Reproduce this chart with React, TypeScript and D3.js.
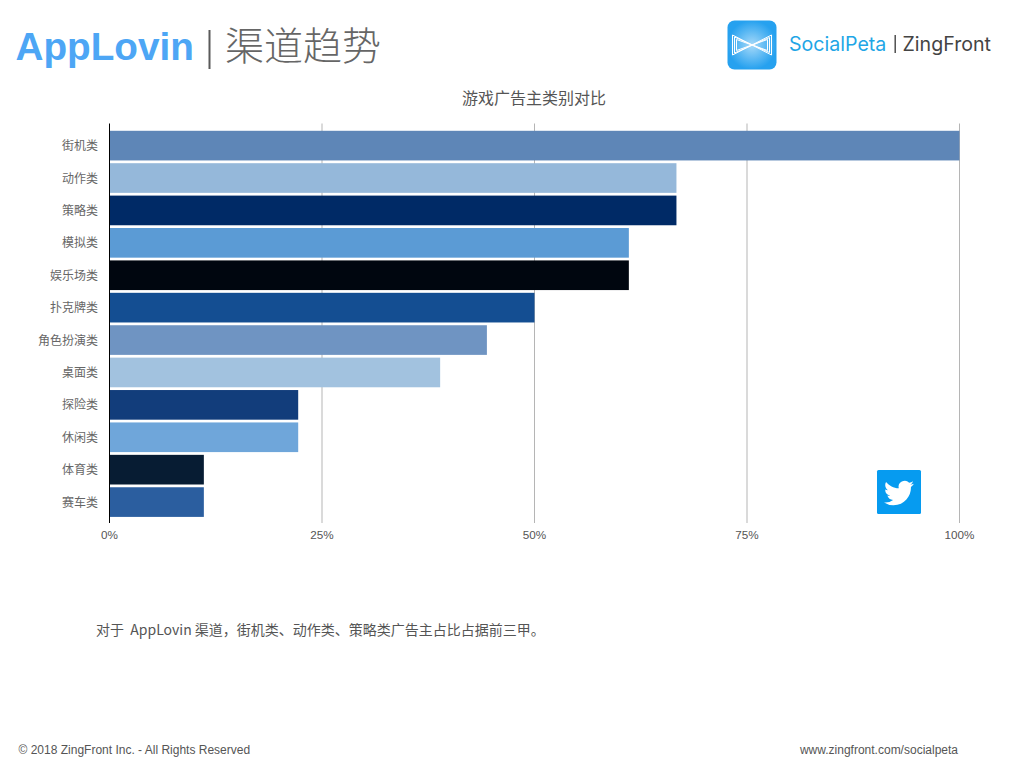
import { useEffect, useRef } from "react";
import * as d3 from "d3";

const categories = ["街机类", "动作类", "策略类", "模拟类", "娱乐场类", "扑克牌类", "角色扮演类", "桌面类", "探险类", "休闲类", "体育类", "赛车类"];
const shares = [100, 66.7, 66.7, 61.1, 61.1, 50, 44.4, 38.9, 22.2, 22.2, 11.1, 11.1];
const barColors = ["#5e86b7", "#95b8da", "#002a66", "#5b9bd5", "#00060f", "#144e92", "#6f94c2", "#a2c2df", "#123d7b", "#6fa6da", "#071c33", "#2b5e9f"];
const xTicks = [0, 25, 50, 75, 100];

const cjk = "'Noto Sans CJK SC', 'Liberation Sans', sans-serif";
const latin = "'Liberation Sans', Arial, sans-serif";
const twitterBird = "M23.95 4.57a10 10 0 0 1-2.82.77 4.96 4.96 0 0 0 2.16-2.72c-.95.55-2 .95-3.12 1.18a4.92 4.92 0 0 0-8.38 4.48C7.69 8.1 4.07 6.13 1.64 3.16a4.9 4.9 0 0 0-.67 2.47c0 1.71.87 3.21 2.19 4.1a4.9 4.9 0 0 1-2.23-.62v.06a4.92 4.92 0 0 0 3.95 4.83 5 5 0 0 1-2.21.08 4.94 4.94 0 0 0 4.6 3.42A9.87 9.87 0 0 1 0 19.54a14 14 0 0 0 7.56 2.21c9.05 0 14-7.5 14-13.98 0-.21 0-.42-.02-.63a9.94 9.94 0 0 0 2.41-2.57z";

export default function App() {
  const svgRef = useRef<SVGSVGElement>(null);

  useEffect(() => {
    if (!svgRef.current) return;
    const svg = d3.select(svgRef.current);
    svg.selectAll("*").remove();

    const x = d3.scaleLinear().domain([0, 100]).range([109.5, 959.5]);
    const y = d3.scaleBand<string>().domain(categories).range([129.5, 518.2]).paddingInner(0.085).paddingOuter(0.04);
    const top = 123.5;
    const bottom = 523;

    // header
    svg.append("text").attr("x", 15.5).attr("y", 60).attr("fill", "#4da6f5")
      .style("font-family", latin).style("font-weight", "700").style("font-size", "38.7px").text("AppLovin");
    svg.append("rect").attr("x", 208.5).attr("y", 30).attr("width", 2).attr("height", 39).attr("fill", "#5a5a5a");
    svg.append("text").attr("x", 225).attr("y", 60).attr("fill", "#666")
      .style("font-family", cjk).style("font-size", "39px").style("font-weight", "300").text("渠道趋势");

    // logo
    const defs = svg.append("defs");
    const grad = defs.append("radialGradient").attr("id", "logoFill");
    grad.append("stop").attr("offset", "0%").attr("stop-color", "#a6d9f9");
    grad.append("stop").attr("offset", "100%").attr("stop-color", "#26a1ef");
    svg.append("rect").attr("x", 727.5).attr("y", 20.5).attr("width", 49).attr("height", 49).attr("rx", 7).attr("fill", "url(#logoFill)");
    const bow = svg.append("g").attr("fill", "none").attr("stroke", "#fff").attr("stroke-width", 1);
    bow.append("path").attr("d", "M732.5 35 L771.5 55 L771.5 35 L732.5 55 Z");
    bow.append("path").attr("d", "M734.5 37 L769.5 52.5 L769.5 37.5 L734.5 53 Z");
    bow.append("path").attr("d", "M736.5 39.5 L767.5 50.5 L767.5 39.5 L736.5 50.5 Z");
    svg.append("text").attr("x", 789).attr("y", 51).attr("fill", "#1fa6e6")
      .style("font-family", "Inter, sans-serif").style("font-size", "19.6px").text("SocialPeta");
    svg.append("rect").attr("x", 894.5).attr("y", 35).attr("width", 1.4).attr("height", 18).attr("fill", "#444");
    svg.append("text").attr("x", 902.5).attr("y", 51).attr("fill", "#444")
      .style("font-family", "Inter, sans-serif").style("font-size", "19.6px").text("ZingFront");

    svg.append("text").attr("x", 534).attr("y", 104).attr("text-anchor", "middle").attr("fill", "#555")
      .style("font-family", cjk).style("font-size", "16px").text("游戏广告主类别对比");

    // grid
    svg.append("g").selectAll("line").data(xTicks.slice(1)).enter().append("line")
      .attr("x1", d => x(d)).attr("x2", d => x(d)).attr("y1", top).attr("y2", bottom)
      .attr("stroke", "#b5b5b5").attr("stroke-width", 1);

    // bars
    svg.append("g").selectAll("rect").data(categories).enter().append("rect")
      .attr("x", x(0))
      .attr("y", d => y(d)!)
      .attr("width", (_, i) => x(shares[i]) - x(0))
      .attr("height", y.bandwidth())
      .attr("fill", (_, i) => barColors[i]);

    svg.append("line").attr("x1", x(0)).attr("x2", x(0)).attr("y1", top).attr("y2", bottom)
      .attr("stroke", "#000").attr("stroke-width", 1);

    // labels
    svg.append("g").selectAll("text").data(categories).enter().append("text")
      .attr("x", 98)
      .attr("y", d => y(d)! + y.bandwidth() / 2 + 4.5)
      .attr("text-anchor", "end")
      .attr("fill", "#666")
      .style("font-family", cjk)
      .style("font-size", "12px")
      .text(d => d);

    svg.append("g").selectAll("text").data(xTicks).enter().append("text")
      .attr("x", d => x(d))
      .attr("y", 539)
      .attr("text-anchor", "middle")
      .attr("fill", "#555")
      .style("font-family", latin)
      .style("font-size", "11.7px")
      .text(d => `${d}%`);

    // twitter badge
    svg.append("rect").attr("x", 877).attr("y", 470).attr("width", 44).attr("height", 44).attr("rx", 1.5).attr("fill", "#069bf0");
    svg.append("path").attr("d", twitterBird).attr("fill", "#fff").attr("transform", "translate(884,478) scale(1.25)");

    // note and footer
    svg.append("text").attr("x", 96).attr("y", 635).attr("fill", "#555")
      .attr("xml:space", "preserve")
      .style("white-space", "pre")
      .style("font-family", cjk).style("font-size", "14px").text("对于  AppLovin 渠道，街机类、动作类、策略类广告主占比占据前三甲。");
    svg.append("text").attr("x", 18.5).attr("y", 754).attr("fill", "#555")
      .style("font-family", latin).style("font-size", "12px").text("© 2018 ZingFront Inc. - All Rights Reserved");
    svg.append("text").attr("x", 958).attr("y", 754).attr("text-anchor", "end").attr("fill", "#555")
      .style("font-family", latin).style("font-size", "12px").text("www.zingfront.com/socialpeta");
  }, []);

  return (
    <svg
      ref={svgRef}
      width={1024}
      height={768}
      style={{ position: "absolute", left: 0, top: 0, background: "#fff" }}
    />
  );
}
